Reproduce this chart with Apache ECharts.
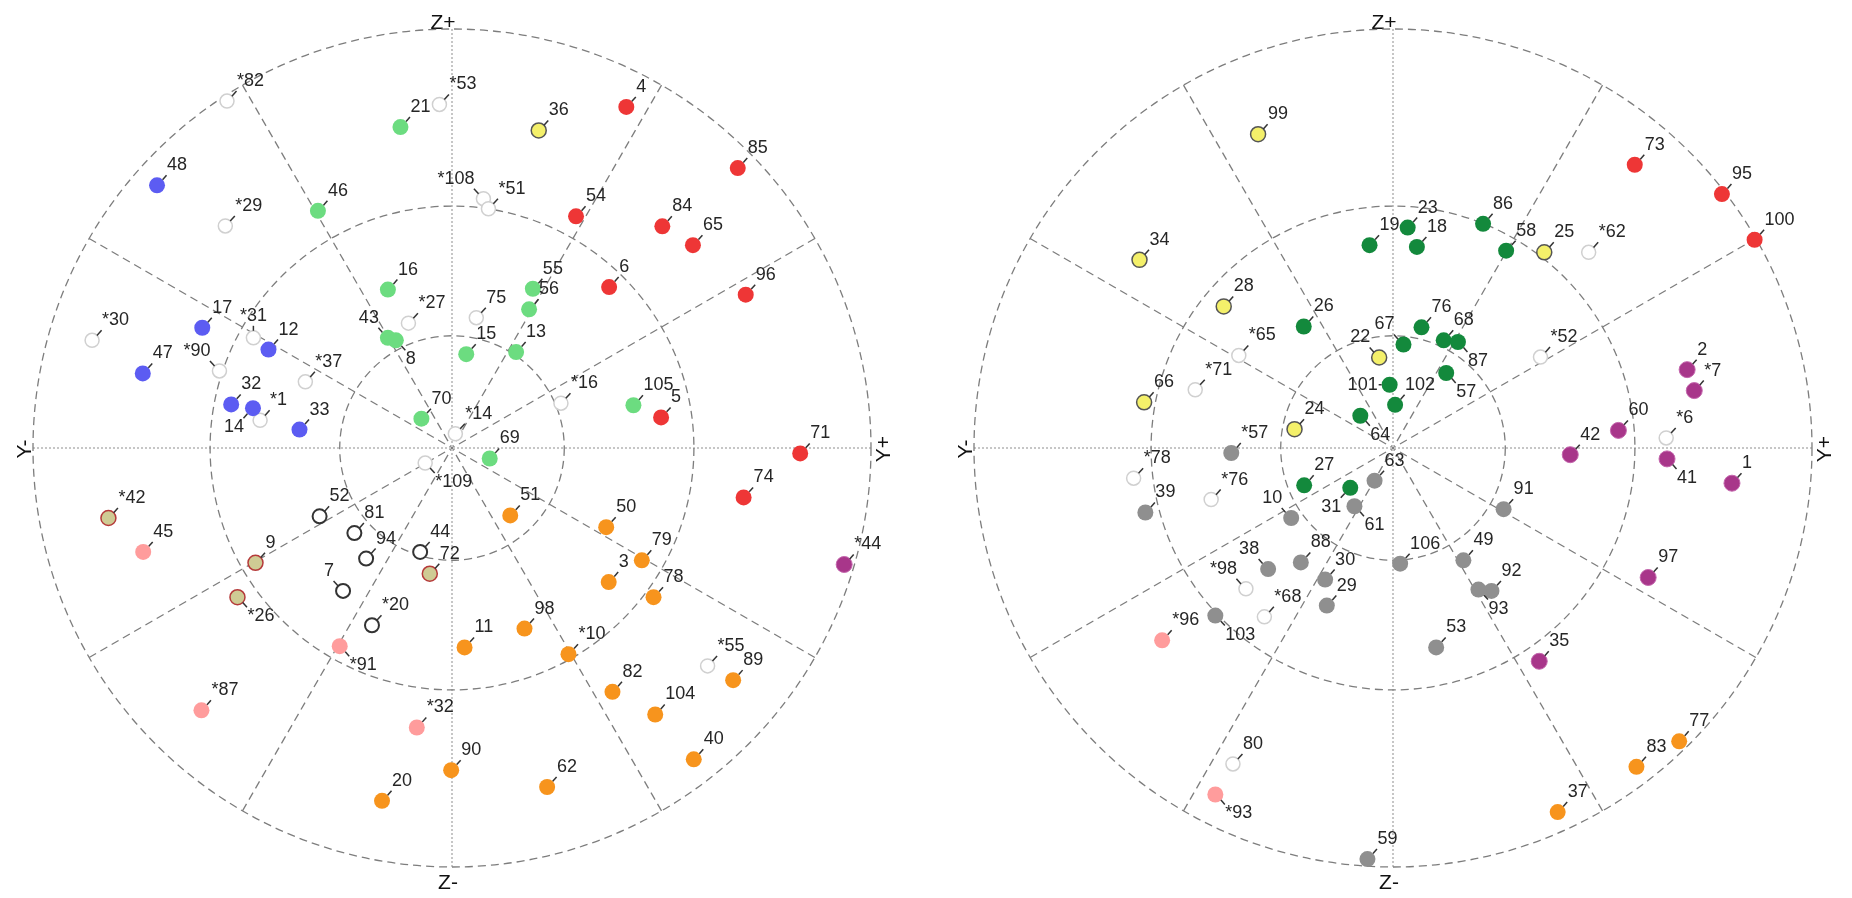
<!DOCTYPE html>
<html>
<head>
<meta charset="utf-8">
<script src="https://cdn.jsdelivr.net/npm/echarts@6/dist/echarts.min.js"></script>
<style>
  html, body { margin: 0; padding: 0; background: #ffffff; }
  #chart { width: 1852px; height: 898px; }
</style>
</head>
<body>
<div id="chart"></div>
<script>
// Pole positions as [Y, Z, id]; Y and Z are given in percent of the primitive circle radius.

// ---- left net ----
const leftLightGreen = [[-12.3,76.6,'21'],[-32.0,56.6,'46'],[-15.3,37.8,'16'],[-15.3,26.3,'43'],[-13.4,25.7,'8'],[-7.3,7.0,'70'],[19.3,38.0,'55'],[18.4,33.1,'56'],[3.4,22.4,'15'],[15.3,22.9,'13'],[43.3,10.2,'105'],[9.0,-2.5,'69']];
const leftBlue = [[-70.4,62.7,'48'],[-59.6,28.7,'17'],[-43.8,23.5,'12'],[-73.8,17.8,'47'],[-52.7,10.4,'32'],[-47.5,9.5,'14'],[-36.4,4.4,'33']];
const leftRed = [[41.6,81.4,'4'],[68.2,66.8,'85'],[29.6,55.3,'54'],[50.2,52.9,'84'],[57.5,48.4,'65'],[37.5,38.4,'6'],[70.1,36.6,'96'],[49.9,7.3,'5'],[83.1,-1.3,'71'],[69.6,-11.8,'74']];
const leftYellow = [[20.7,75.8,'36']];
const leftOrange = [[13.9,-16.1,'51'],[36.8,-18.9,'50'],[45.3,-26.8,'79'],[37.4,-32.0,'3'],[48.1,-35.6,'78'],[17.3,-43.1,'98'],[3.0,-47.6,'11'],[27.8,-49.2,'*10'],[67.1,-55.4,'89'],[38.3,-58.2,'82'],[48.5,-63.6,'104'],[57.7,-74.3,'40'],[-0.2,-76.9,'90'],[22.7,-80.9,'62'],[-16.7,-84.2,'20']];
const leftPurple = [[93.6,-27.8,'*44']];
const leftPink = [[-73.7,-24.8,'45'],[-26.8,-47.3,'*91'],[-59.8,-62.6,'*87'],[-8.4,-66.7,'*32']];
const leftKhaki = [[-82.0,-16.7,'*42'],[-46.9,-27.4,'9'],[-51.2,-35.6,'*26'],[-5.3,-30.0,'72']];
const leftOpenDark = [[-31.6,-16.3,'52'],[-23.3,-20.3,'81'],[-20.5,-26.4,'94'],[-7.6,-24.8,'44'],[-26.0,-34.1,'7'],[-19.1,-42.3,'*20']];
const leftOpenLight = [[-53.7,82.8,'*82'],[-3.0,82.0,'*53'],[-54.1,53.0,'*29'],[-10.4,29.8,'*27'],[-85.9,25.7,'*30'],[-47.4,26.3,'*31'],[-55.5,18.4,'*90'],[-35.0,15.8,'*37'],[-45.8,6.6,'*1'],[7.5,59.5,'*108'],[8.7,57.1,'*51'],[5.8,31.1,'75'],[26.0,10.7,'*16'],[0.8,3.4,'*14'],[-6.4,-3.6,'*109'],[61.0,-52.0,'*55']];

// ---- right net ----
const rightYellow = [[-32.2,74.9,'99'],[-60.5,44.9,'34'],[-40.4,33.8,'28'],[-3.3,21.6,'22'],[-59.4,10.9,'66'],[-23.5,4.5,'24'],[36.1,46.7,'25']];
const rightDarkGreen = [[-5.6,48.4,'19'],[3.5,52.6,'23'],[5.7,48.0,'18'],[21.5,53.5,'86'],[27.0,47.1,'58'],[-21.3,29.0,'26'],[2.5,24.7,'67'],[6.8,28.8,'76'],[12.1,25.7,'68'],[15.5,25.3,'87'],[-0.8,15.1,'101'],[0.5,10.3,'102'],[12.7,17.9,'57'],[-7.8,7.7,'64'],[-21.2,-8.9,'27'],[-10.2,-9.5,'31']];
const rightRed = [[57.7,67.6,'73'],[78.5,60.6,'95'],[86.3,49.7,'100']];
const rightPurple = [[70.2,18.7,'2'],[71.9,13.7,'*7'],[53.8,4.2,'60'],[42.3,-1.6,'42'],[65.4,-2.6,'41'],[80.9,-8.4,'1'],[60.9,-30.9,'97'],[34.9,-50.9,'35']];
const rightOrange = [[68.3,-70.0,'77'],[58.1,-76.1,'83'],[39.3,-86.9,'37']];
const rightGray = [[-38.6,-1.2,'*57'],[-59.1,-15.4,'39'],[-24.3,-16.7,'10'],[-29.8,-28.9,'38'],[-22.0,-27.3,'88'],[-16.2,-31.4,'30'],[-15.8,-37.6,'29'],[-42.4,-40.0,'103'],[-6.1,-98.1,'59'],[-9.2,-13.9,'61'],[-4.4,-7.8,'63'],[1.7,-27.6,'106'],[16.8,-26.8,'49'],[23.5,-34.1,'92'],[20.4,-33.8,'93'],[10.3,-47.6,'53'],[26.4,-14.6,'91']];
const rightPink = [[-55.1,-45.9,'*96'],[-42.4,-82.7,'*93']];
const rightOpenLight = [[46.7,46.7,'*62'],[35.2,21.7,'*52'],[65.2,2.4,'*6'],[-36.8,22.1,'*65'],[-47.2,13.9,'*71'],[-61.9,-7.2,'*78'],[-43.4,-12.3,'*76'],[-35.1,-33.6,'*98'],[-30.7,-40.3,'*68'],[-38.2,-75.4,'80']];

// Which side of its marker an id label sits on (default: upper right).
const leftLabelSides = {'43':'ul','8':'lr','14':'ll','*90':'ul','*108':'ul','*109':'lr','*26':'lr','*91':'lr','7':'ul','*31':'u'};
const rightLabelSides = {'22':'ul','67':'ul','101':'l','87':'lr','57':'lr','64':'lr','31':'ll','41':'lr','10':'ul','38':'ul','103':'lr','61':'lr','93':'lr','*98':'ul','*93':'lr'};

// Cross-section letters at the ends of the reference axes.
const axisNames = { top: 'Z+', bottom: 'Z-', left: 'Y-', right: 'Y+' };

// ---- layout & styles ----
const R = 419;
const nets = [ { cx: 452, cy: 448 }, { cx: 1393, cy: 448 } ];
const ringDips = [15, 30];   // half-angles of the inner small circles (stereographic)

const STYLE = {
  lightGreen: { r: 8, fill: '#6cdc80' },
  blue:       { r: 8, fill: '#5c5cf2' },
  red:        { r: 8, fill: '#ee3636' },
  orange:     { r: 8, fill: '#f7941d' },
  purple:     { r: 8, fill: '#a8368a', stroke: '#c466ad', lw: 1 },
  pink:       { r: 8, fill: '#ff9c9c' },
  gray:       { r: 8, fill: '#8f8f8f' },
  darkGreen:  { r: 8, fill: '#13893c' },
  yellow:     { r: 7.5, fill: '#f4f06a', stroke: '#555555', lw: 1.5 },
  khaki:      { r: 7.5, fill: '#cfcb94', stroke: '#b53a3a', lw: 1.5 },
  openDark:   { r: 7, fill: '#ffffff', stroke: '#333333', lw: 2 },
  openLight:  { r: 7, fill: '#ffffff', stroke: '#d0d0d0', lw: 1.5 }
};

const SIDES = {
  ur: { dx: 10,  dy: -20, align: 'left',   l: [0.7, -0.7, 9.5, -10] },
  lr: { dx: 10,  dy: 19,  align: 'left',   l: [0.7, 0.7, 9.5, 10] },
  ul: { dx: -9,  dy: -20, align: 'right',  l: [-0.7, -0.7, -9.5, -10] },
  ll: { dx: -9,  dy: 19,  align: 'right',  l: [-0.7, 0.7, -9.5, 10] },
  l:  { dx: -12, dy: 0,   align: 'right',  l: [-1, 0, -11, 0] },
  u:  { dx: 0,   dy: -22, align: 'center', l: [0, -1, 0, -12] }
};

const LABEL_FONT = '18px "Liberation Sans", Arial, sans-serif';
const AXIS_FONT = '21px "Liberation Sans", Arial, sans-serif';

function poleSeries(gridIndex, points, sides, st) {
  return {
    type: 'custom',
    xAxisIndex: gridIndex,
    yAxisIndex: gridIndex,
    clip: false,
    silent: true,
    data: points.map(p => [p[0], p[1]]),
    renderItem: function (params, api) {
      const pt = api.coord([api.value(0), api.value(1)]);
      const id = points[params.dataIndex][2];
      const s = SIDES[sides[id] || 'ur'];
      const r = st.r;
      const circleStyle = { fill: st.fill };
      if (st.stroke) { circleStyle.stroke = st.stroke; circleStyle.lineWidth = st.lw; }
      return {
        type: 'group',
        children: [
          { type: 'circle', shape: { cx: pt[0], cy: pt[1], r: r }, style: circleStyle, z2: 1 },
          { type: 'line',
            shape: { x1: pt[0] + s.l[0] * r, y1: pt[1] + s.l[1] * r, x2: pt[0] + s.l[2], y2: pt[1] + s.l[3] },
            style: { stroke: '#333333', lineWidth: 1.5 }, z2: 5 },
          { type: 'text', x: pt[0] + s.dx, y: pt[1] + s.dy,
            style: { text: id, fill: '#262626', font: LABEL_FONT, align: s.align, verticalAlign: 'middle' }, z2: 10 }
        ]
      };
    }
  };
}

// Four polar systems per net: spokes + primitive circle, Y/Z cross, and two inner circles.
const polar = [], angleAxis = [], radiusAxis = [];
const DASH = { color: '#7d7d7d', width: 1.3, type: [8, 5] };
nets.forEach(n => {
  const base = polar.length;
  const radii = [R, R].concat(ringDips.map(d => R * Math.tan(d * Math.PI / 180)).reverse());
  radii.forEach((rad, k) => {
    polar.push({ center: [n.cx, n.cy], radius: rad });
    const ax = {
      polarIndex: base + k, type: 'value', min: 0, max: 360, interval: k === 1 ? 90 : 30,
      startAngle: 0, clockwise: false,
      axisLabel: { show: false }, axisTick: { show: false },
      axisLine: { show: k !== 1, lineStyle: DASH },
      splitLine: { show: false }
    };
    if (k === 0) {
      ax.splitLine = { show: true, lineStyle: { color: ['rgba(0,0,0,0)', '#7d7d7d', '#7d7d7d'], width: 1.3, type: [8, 5] } };
    } else if (k === 1) {
      ax.splitLine = { show: true, lineStyle: { color: '#c6c6c6', width: 2, type: [2, 2] } };
    }
    angleAxis.push(ax);
    radiusAxis.push({ polarIndex: base + k, min: 0, max: 1, show: false });
  });
});

// Cartesian frames sharing the nets' centres, used to place the poles.
const grid = nets.map(n => ({ left: n.cx - R, top: n.cy - R, width: 2 * R, height: 2 * R }));
const xAxis = nets.map((n, i) => ({ gridIndex: i, type: 'value', min: -100, max: 100, show: false }));
const yAxis = nets.map((n, i) => ({ gridIndex: i, type: 'value', min: -100, max: 100, show: false }));

const series = [
  poleSeries(0, leftOpenLight, leftLabelSides, STYLE.openLight),
  poleSeries(0, leftOpenDark, leftLabelSides, STYLE.openDark),
  poleSeries(0, leftLightGreen, leftLabelSides, STYLE.lightGreen),
  poleSeries(0, leftBlue, leftLabelSides, STYLE.blue),
  poleSeries(0, leftRed, leftLabelSides, STYLE.red),
  poleSeries(0, leftYellow, leftLabelSides, STYLE.yellow),
  poleSeries(0, leftOrange, leftLabelSides, STYLE.orange),
  poleSeries(0, leftPurple, leftLabelSides, STYLE.purple),
  poleSeries(0, leftPink, leftLabelSides, STYLE.pink),
  poleSeries(0, leftKhaki, leftLabelSides, STYLE.khaki),
  poleSeries(1, rightOpenLight, rightLabelSides, STYLE.openLight),
  poleSeries(1, rightYellow, rightLabelSides, STYLE.yellow),
  poleSeries(1, rightDarkGreen, rightLabelSides, STYLE.darkGreen),
  poleSeries(1, rightRed, rightLabelSides, STYLE.red),
  poleSeries(1, rightPurple, rightLabelSides, STYLE.purple),
  poleSeries(1, rightOrange, rightLabelSides, STYLE.orange),
  poleSeries(1, rightGray, rightLabelSides, STYLE.gray),
  poleSeries(1, rightPink, rightLabelSides, STYLE.pink)
];

const graphic = [];
nets.forEach(n => {
  const txt = (text, x, y, rot) => ({
    type: 'text', x: x, y: y, rotation: rot || 0, silent: true,
    style: { text: text, font: AXIS_FONT, fill: '#111111', align: 'center', verticalAlign: 'middle' }
  });
  graphic.push(txt(axisNames.top, n.cx - 9, n.cy - R - 6));
  graphic.push(txt(axisNames.bottom, n.cx - 4, n.cy + R + 16));
  graphic.push(txt(axisNames.left, n.cx - R - 8, n.cy + 1, Math.PI / 2));
  graphic.push(txt(axisNames.right, n.cx + R + 13, n.cy + 1, Math.PI / 2));
});

const chart = echarts.init(document.getElementById('chart'), null, { renderer: 'canvas' });
chart.setOption({
  backgroundColor: '#ffffff',
  animation: false,
  polar, angleAxis, radiusAxis,
  grid, xAxis, yAxis,
  series,
  graphic
});
</script>
</body>
</html>
